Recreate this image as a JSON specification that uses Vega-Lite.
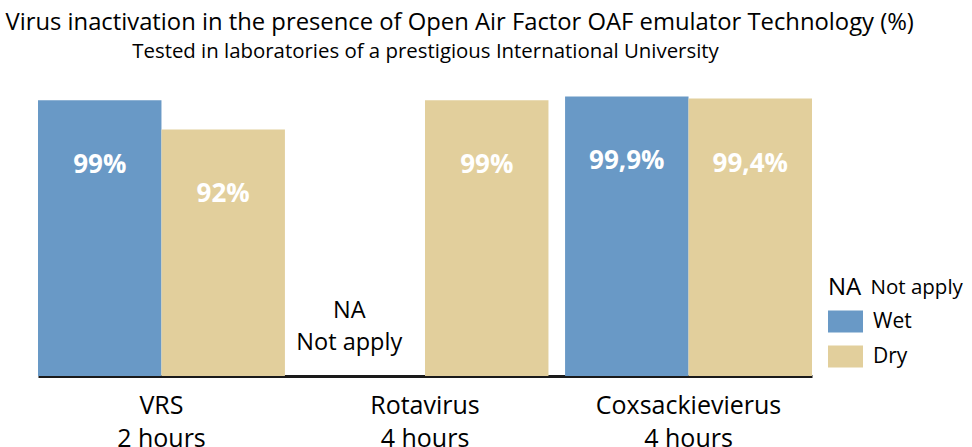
{
  "$schema": "https://vega.github.io/schema/vega-lite/v6.json",
  "width": 774,
  "height": 280,
  "autosize": "none",
  "padding": {"left": 38, "top": 96, "right": 160, "bottom": 71},
  "datasets": {
    "bars": [
      {"virus": "VRS", "cond": "Wet", "value": 99, "label": "99%"},
      {"virus": "VRS", "cond": "Dry", "value": 92, "label": "92%"},
      {"virus": "Rotavirus", "cond": "Dry", "value": 99, "label": "99%"},
      {"virus": "Coxsackievierus", "cond": "Wet", "value": 99.9, "label": "99,9%"},
      {"virus": "Coxsackievierus", "cond": "Dry", "value": 99.4, "label": "99,4%"}
    ],
    "na": [
      {"virus": "Rotavirus", "cond": "Wet", "text": "NA\nNot apply", "note": "Not apply"}
    ]
  },
  "encoding": {
    "x": {
      "field": "virus",
      "type": "nominal",
      "sort": ["VRS", "Rotavirus", "Coxsackievierus"],
      "scale": {"domain": ["VRS", "Rotavirus", "Coxsackievierus"], "paddingInner": 0.063, "paddingOuter": 0},
      "axis": {
        "title": "Virus inactivation in the presence of Open Air Factor OAF emulator Technology (%)",
        "titleX": -33,
        "titleY": -346.7,
        "titleAlign": "left",
        "titleBaseline": "alphabetic",
        "titleFont": "Open Sans",
        "titleFontSize": 23.8,
        "titleFontWeight": "normal",
        "titleColor": "#000000",
        "titleLimit": 1000,
        "labelExpr": "[datum.value, datum.value == 'VRS' ? '2 hours' : '4 hours']",
        "labelFont": "Open Sans",
        "labelFontSize": 25,
        "labelColor": "#000000",
        "labelBaseline": "alphabetic",
        "labelPadding": 37,
        "labelLineHeight": 33,
        "labelAngle": 0,
        "labelLimit": 400,
        "ticks": false,
        "tickSize": 0,
        "domainColor": "#1a1a1a",
        "domainWidth": 3,
        "grid": false
      }
    },
    "xOffset": {
      "field": "cond",
      "type": "nominal",
      "sort": ["Wet", "Dry"],
      "scale": {"domain": ["Wet", "Dry"], "paddingInner": 0, "paddingOuter": 0}
    }
  },
  "layer": [
    {
      "data": {"name": "bars"},
      "mark": {"type": "bar"},
      "encoding": {
        "y": {
          "field": "value",
          "type": "quantitative",
          "scale": {"domain": [33, 100], "zero": false, "nice": false},
          "axis": {
            "title": "Tested in laboratories of a prestigious International University",
            "titleAngle": 0,
            "titleX": 387,
            "titleY": -38.3,
            "titleAlign": "center",
            "titleBaseline": "alphabetic",
            "titleFont": "Open Sans",
            "titleFontSize": 20.4,
            "titleFontWeight": "normal",
            "titleColor": "#000000",
            "titleLimit": 1000,
            "labels": false,
            "ticks": false,
            "domain": false,
            "grid": false
          }
        },
        "y2": {"datum": 33},
        "color": {
          "field": "cond",
          "type": "nominal",
          "scale": {"domain": ["Wet", "Dry"], "range": ["#6999c6", "#e2cf9c"]},
          "legend": {
            "orient": "none",
            "legendX": 790,
            "legendY": 208,
            "title": null,
            "symbolType": "M-1,-0.63L1,-0.63L1,0.63L-1,0.63Z",
            "symbolSize": 1225,
            "symbolStrokeWidth": 0,
            "symbolOpacity": 1,
            "labelFont": "Open Sans",
            "labelFontSize": 21,
            "labelColor": "#000000",
            "labelOffset": 10,
            "rowPadding": 6
          }
        }
      }
    },
    {
      "data": {"name": "bars"},
      "mark": {"type": "text", "baseline": "middle", "align": "center", "dy": 65, "font": "Open Sans", "fontWeight": "bold", "fontSize": 26, "color": "#ffffff"},
      "encoding": {
        "y": {"field": "value", "type": "quantitative"},
        "text": {"field": "label"}
      }
    },
    {
      "data": {"name": "na"},
      "mark": {"type": "text", "baseline": "middle", "align": "center", "lineBreak": "\n", "lineHeight": 32, "dx": -14, "font": "Open Sans", "fontSize": 23.5, "color": "#000000"},
      "encoding": {
        "y": {"datum": 48.5, "type": "quantitative"},
        "text": {"field": "text"},
        "opacity": {
          "field": "note",
          "type": "ordinal",
          "scale": {"range": [1, 1]},
          "legend": {
            "orient": "none",
            "legendX": 790,
            "legendY": 182,
            "title": "NA",
            "titleOrient": "left",
            "titleFont": "Open Sans",
            "titleFontSize": 24,
            "titleFontWeight": "normal",
            "titleColor": "#000000",
            "titlePadding": 7,
            "symbolSize": 0,
            "symbolOpacity": 0,
            "symbolStrokeWidth": 0,
            "labelFont": "Open Sans",
            "labelFontSize": 20.5,
            "labelColor": "#000000",
            "labelOffset": -19
          }
        }
      }
    }
  ],
  "config": {"view": {"stroke": null}}
}
